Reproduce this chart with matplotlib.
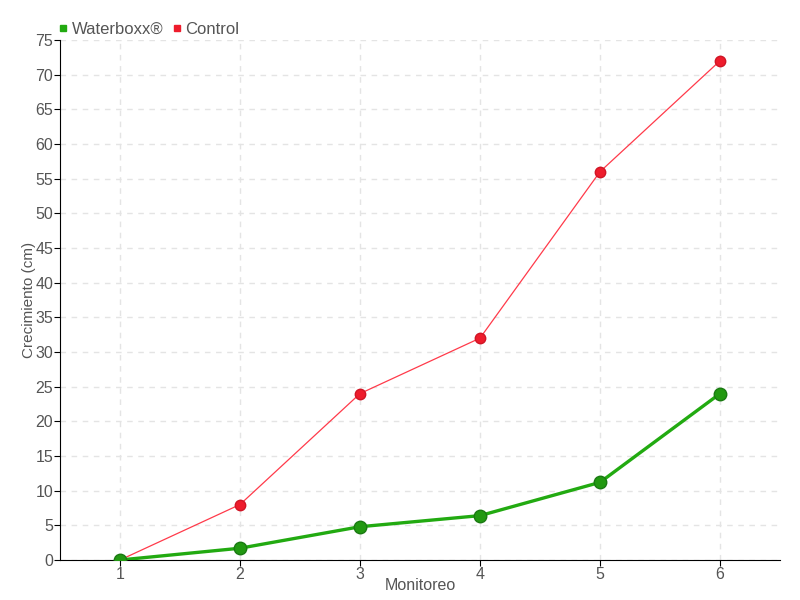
import matplotlib.pyplot as plt
from matplotlib.lines import Line2D

monitoreo = [1, 2, 3, 4, 5, 6]
waterboxx = [0, 1.7, 4.8, 6.4, 11.2, 24]
control = [0, 8, 24, 32, 56, 72]

plt.rcParams['font.family'] = ['Liberation Sans', 'DejaVu Sans']
txt = '#555555'

fig = plt.figure(figsize=(8, 6), dpi=100)
ax = fig.add_axes([60/800, 40/600, 720/800, 520/600])

ax.plot(monitoreo, control, color='#ff3a4a', lw=0.9, zorder=3)
ax.plot(monitoreo, control, 'o', color='#ee1c2c', mec='#d01525', ms=7.5, zorder=4)
ax.plot(monitoreo, waterboxx, color='#22aa11', lw=2.4, zorder=5)
ax.plot(monitoreo, waterboxx, 'o', color='#229911', mec='#1a7a12', ms=9, zorder=6)

ax.set_xlim(0.5, 6.5)
ax.set_ylim(0, 75)
ax.set_xticks(monitoreo)
ax.set_yticks(range(0, 80, 5))
ax.grid(True, ls=(0, (4, 4)), color='#e4e4e4', lw=1)
ax.set_axisbelow(True)
for s in ['top', 'right']:
    ax.spines[s].set_visible(False)
ax.spines['left'].set_color('black')
ax.spines['bottom'].set_color('black')
ax.tick_params(colors='black', labelcolor=txt, labelsize=11.5, length=4, pad=1)
ax.set_xlabel('Monitoreo', color=txt, fontsize=11.5, labelpad=-3)
ax.set_ylabel('Crecimiento (cm)', color=txt, fontsize=11)
ax.yaxis.set_label_coords(-24/720, 0.5)

handles = [Line2D([], [], marker='s', ls='', color='#22aa11', ms=5),
           Line2D([], [], marker='s', ls='', color='#ee1c2c', ms=5)]
fig.legend(handles, ['Waterboxx®', 'Control'], loc='upper left',
           bbox_to_anchor=(40/800, 1 - 7/600), ncol=2, frameon=False,
           fontsize=12, labelcolor=txt, handletextpad=0.0, columnspacing=0.3,
           handlelength=1)

fig.savefig('out.png')
